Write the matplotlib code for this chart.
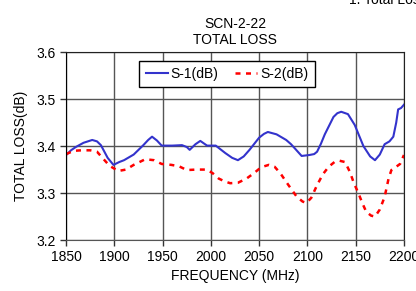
import matplotlib
matplotlib.use("Agg")
import matplotlib.pyplot as plt

plt.rcParams['font.family'] = ['Liberation Sans', 'DejaVu Sans']
plt.rcParams['font.size'] = 10

# S-1 (dB)
freq1 = [1850, 1855, 1860, 1868, 1877, 1882, 1886, 1893, 1899, 1905, 1910, 1920, 1930,
         1935, 1939, 1944, 1949, 1960, 1970, 1975, 1978, 1984, 1989, 1996, 2005, 2010,
         2015, 2022, 2028, 2034, 2040, 2050, 2055, 2059, 2068, 2078, 2083, 2087, 2094,
         2102, 2107, 2110, 2114, 2118, 2127, 2131, 2135, 2142, 2149, 2154, 2158, 2165,
         2170, 2175, 2180, 2185, 2189, 2192, 2194, 2197, 2200]
s1 = [3.381, 3.391, 3.398, 3.407, 3.413, 3.410, 3.402, 3.375, 3.360, 3.366, 3.370, 3.382, 3.402,
      3.413, 3.420, 3.412, 3.401, 3.401, 3.402, 3.398, 3.392, 3.404, 3.411, 3.401, 3.401, 3.393,
      3.385, 3.375, 3.370, 3.378, 3.392, 3.418, 3.426, 3.430, 3.425, 3.413, 3.404, 3.395, 3.379,
      3.381, 3.383, 3.388, 3.405, 3.425, 3.462, 3.470, 3.473, 3.468, 3.445, 3.420, 3.400, 3.378,
      3.370, 3.382, 3.404, 3.410, 3.420, 3.450, 3.478, 3.481, 3.488]

# S-2 (dB)
freq2 = [1850, 1858, 1866, 1875, 1882, 1888, 1895, 1904, 1912, 1920, 1932, 1941,
         1949, 1959, 1967, 1975, 1985, 1996, 2002, 2008, 2014, 2020, 2028, 2037,
         2045, 2052, 2060, 2066, 2072, 2080, 2089, 2095, 2099, 2104, 2110, 2116,
         2122, 2128, 2133, 2139, 2144, 2148, 2153, 2157, 2161, 2166, 2170, 2175,
         2180, 2184, 2187, 2192, 2196, 2200]
s2 = [3.383, 3.390, 3.391, 3.391, 3.388, 3.374, 3.358, 3.347, 3.350, 3.360, 3.372, 3.370,
      3.362, 3.360, 3.357, 3.349, 3.350, 3.350, 3.342, 3.331, 3.325, 3.321, 3.322, 3.331,
      3.343, 3.355, 3.360, 3.356, 3.342, 3.318, 3.292, 3.282, 3.279, 3.290, 3.317, 3.340,
      3.356, 3.366, 3.369, 3.366, 3.345, 3.322, 3.299, 3.278, 3.260, 3.252, 3.250, 3.265,
      3.292, 3.330, 3.349, 3.356, 3.362, 3.381]

xticks = [1850, 1900, 1950, 2000, 2050, 2100, 2150, 2200]
yticks = [3.2, 3.3, 3.4, 3.5, 3.6]

fig = plt.figure(figsize=(4.16, 2.91), dpi=100)
ax = fig.add_axes([0.159, 0.175, 0.812, 0.646])

ax.plot(freq1, s1, color='#3333cc', lw=1.5, label='S-1(dB)')
ax.plot(freq2, s2, color='red', lw=1.8, ls=(0, (2, 2.2)), label='S-2(dB)')

ax.set_xlim(1850, 2200)
ax.set_ylim(3.2, 3.6)
ax.set_xticks(xticks)
ax.set_yticks(yticks)
ax.set_yticklabels(['%.1f' % v for v in yticks])
ax.grid(True, color='#555555', lw=1.0)
ax.tick_params(direction='out', length=4, width=1, colors='#333333', labelcolor='black')
for side in ['top', 'right']:
    ax.spines[side].set_color('#222222')
ax.spines['left'].set_color('black')
ax.spines['bottom'].set_color('#555555')

ax.set_xlabel('FREQUENCY (MHz)', labelpad=3)
ax.set_ylabel('TOTAL LOSS(dB)', labelpad=6)
ax.set_title('SCN-2-22\nTOTAL LOSS', fontsize=10, linespacing=1.15, pad=6)

leg = ax.legend(loc='upper center', bbox_to_anchor=(0.476, 0.955), ncol=2, fancybox=False,
                framealpha=1, edgecolor='black', fontsize=10, handlelength=1.6,
                handletextpad=0.2, columnspacing=1.2, borderpad=0.45, borderaxespad=0)
leg.get_frame().set_linewidth(1.0)

fig.text(0.838, 1 - 4 / 291, '1. Total Loss', fontsize=10, va='baseline')

fig.savefig('out.png', dpi=100)
